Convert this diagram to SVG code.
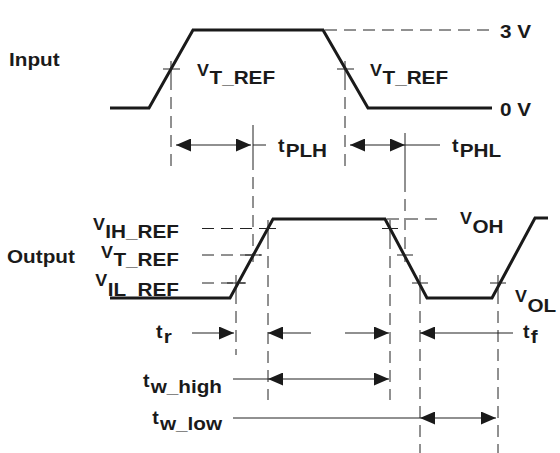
<svg xmlns="http://www.w3.org/2000/svg" width="560" height="453" viewBox="0 0 560 453">
<defs>
<style>
.wave{fill:none;stroke:#1a1a1a;stroke-width:3;stroke-linejoin:miter}
.dash{fill:none;stroke:#222;stroke-width:1;stroke-dasharray:12,7}
.thin{fill:none;stroke:#222;stroke-width:1}
.arr{fill:none;stroke:#222;stroke-width:1.2;marker-start:url(#ah);marker-end:url(#ah)}
.arrE{fill:none;stroke:#222;stroke-width:1.2;marker-end:url(#ah)}
.arrS{fill:none;stroke:#222;stroke-width:1.2;marker-start:url(#ah)}
text{font-family:"Liberation Sans",Arial,sans-serif;font-weight:bold;fill:#1a1a1a}
.b{font-size:18.5px}
.s{font-size:16px}
.t{font-size:17.5px}
</style>
<marker id="ah" viewBox="0 0 15 13" refX="15" refY="6.5" markerWidth="15" markerHeight="13" markerUnits="userSpaceOnUse" orient="auto-start-reverse">
<path d="M0,0 L15,6.5 L0,13 z" fill="#1a1a1a"/>
</marker>
</defs>

<g id="waveforms">
<polyline id="input-wave" class="wave" points="110,108 149,108 193,30 323,30 368,108 492,108"/>
<polyline id="output-wave" class="wave" points="110,298 230,298 273,219 385,219 427,298 492,298 535,218 548,218"/>
</g>

<g id="connectors">
<line class="dash" x1="325" y1="30" x2="490" y2="30"/>
<line class="dash" x1="202" y1="228.5" x2="276" y2="228.5"/>
<line class="dash" x1="202" y1="255" x2="262" y2="255"/>
<line class="dash" x1="202" y1="283" x2="246" y2="283"/>
<line class="dash" x1="387" y1="219" x2="442" y2="219"/>
<path class="thin" d="M163,69 H180 M171,61 V78 M337,69 H354 M345,61 V78"/>
<path class="thin" d="M227,283 H245 M236,275 V292 M382,228.5 H398 M390,220 V237 M397,255 H413 M412,283 H428 M420,275 V292 M490,283 H506 M498,275 V292 M260,228.5 H276 M268,220 V237 M245,255 H261"/>
<line class="dash" x1="171" y1="78" x2="171" y2="170"/>
<line class="dash" x1="345" y1="78" x2="345" y2="168"/>
<line class="dash" x1="253" y1="158" x2="253" y2="262"/>
<line class="dash" x1="405" y1="180" x2="405" y2="262"/>
<line class="dash" x1="236" y1="292" x2="236" y2="355"/>
<line class="dash" x1="268" y1="237" x2="268" y2="400"/>
<line class="dash" x1="390" y1="237" x2="390" y2="400"/>
<line class="dash" x1="420" y1="292" x2="420" y2="453"/>
<line class="dash" x1="498" y1="292" x2="498" y2="453"/>
<path class="thin" d="M253,125 V158 M405,133 V180"/>
<line class="arr" x1="176" y1="145" x2="251" y2="145"/>
<line class="thin" x1="253" y1="145" x2="266" y2="145"/>
<line class="arr" x1="350" y1="145" x2="405" y2="145"/>
<line class="thin" x1="405" y1="145" x2="440" y2="145"/>
<line class="arrE" x1="192" y1="333" x2="234" y2="333"/>
<line class="arrS" x1="268" y1="333" x2="311" y2="333"/>
<line class="arrE" x1="345" y1="333" x2="389" y2="333"/>
<line class="arrS" x1="420" y1="333" x2="513" y2="333"/>
<line class="thin" x1="233" y1="379" x2="268" y2="379"/>
<line class="arr" x1="268" y1="379" x2="389" y2="379"/>
<line class="thin" x1="233" y1="418" x2="420" y2="418"/>
<line class="arr" x1="420" y1="418" x2="496" y2="418"/>
</g>

<g id="labels">
<text id="lbl-input" class="b" transform="matrix(1.12 0 0 1 9 66)">Input</text>
<text id="lbl-output" class="b" transform="matrix(1.12 0 0 1 7 263)">Output</text>
<text id="lbl-3v" class="b" transform="matrix(1.12 0 0 1 500 38)">3 V</text>
<text id="lbl-0v" class="b" transform="matrix(1.12 0 0 1 500 116)">0 V</text>
<text id="lbl-vt1" transform="matrix(1.12 0 0 1 197 76)"><tspan class="s">V</tspan><tspan class="b" dx="0.5" dy="8">T_REF</tspan></text>
<text id="lbl-vt2" transform="matrix(1.12 0 0 1 370 76)"><tspan class="s">V</tspan><tspan class="b" dx="0.5" dy="8">T_REF</tspan></text>
<text id="lbl-tplh" transform="matrix(1.12 0 0 1 278 152)"><tspan class="t">t</tspan><tspan class="b" dx="1" dy="5">PLH</tspan></text>
<text id="lbl-tphl" transform="matrix(1.12 0 0 1 452 152)"><tspan class="t">t</tspan><tspan class="b" dx="1" dy="5">PHL</tspan></text>
<text id="lbl-vih" text-anchor="end" transform="matrix(1.12 0 0 1 179 230)"><tspan class="s">V</tspan><tspan class="b" dx="0.5" dy="8">IH_REF</tspan></text>
<text id="lbl-vtout" text-anchor="end" transform="matrix(1.12 0 0 1 179 258)"><tspan class="s">V</tspan><tspan class="b" dx="0.5" dy="8">T_REF</tspan></text>
<text id="lbl-vil" text-anchor="end" transform="matrix(1.12 0 0 1 179 286)"><tspan class="s">V</tspan><tspan class="b" dx="0.5" dy="10">IL_REF</tspan></text>
<text id="lbl-voh" transform="matrix(1.12 0 0 1 460 224)"><tspan class="s">V</tspan><tspan class="b" dx="0.5" dy="9">OH</tspan></text>
<text id="lbl-vol" transform="matrix(1.12 0 0 1 515 302)"><tspan class="s">V</tspan><tspan class="b" dx="0.5" dy="10">OL</tspan></text>
<text id="lbl-tr" transform="matrix(1.12 0 0 1 156 338)"><tspan class="t">t</tspan><tspan class="b" dx="1" dy="5">r</tspan></text>
<text id="lbl-tf" transform="matrix(1.12 0 0 1 523 338)"><tspan class="t">t</tspan><tspan class="b" dx="1" dy="5">f</tspan></text>
<text id="lbl-twhigh" text-anchor="end" transform="matrix(1.12 0 0 1 222 387)"><tspan class="t">t</tspan><tspan class="b" dx="1" dy="6">w_high</tspan></text>
<text id="lbl-twlow" text-anchor="end" transform="matrix(1.12 0 0 1 222 424)"><tspan class="t">t</tspan><tspan class="b" dx="1" dy="6">w_low</tspan></text>
</g>
</svg>
